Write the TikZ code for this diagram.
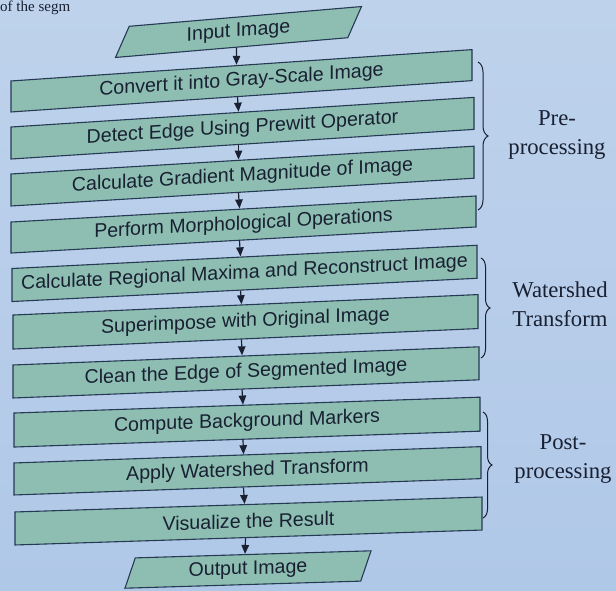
\documentclass[tikz,border=0pt]{standalone}
\usepackage{fontspec}
\setmainfont{Liberation Serif}
\newfontfamily\boxfont{Liberation Sans}
\usetikzlibrary{shapes.geometric,decorations.pathreplacing,arrows.meta}

\definecolor{pagetop}{RGB}{190,210,235}
\definecolor{pagebottom}{RGB}{176,200,232}
\definecolor{boxfill}{RGB}{142,190,178}
\definecolor{boxline}{RGB}{38,58,84}
\definecolor{ink}{RGB}{24,32,50}

\begin{document}
\begin{tikzpicture}[x=1pt,y=-1pt,
  stepbox/.style={draw=boxline, line width=1.1pt, fill=boxfill, rectangle,
    inner sep=0pt, text=ink, font=\boxfont\fontsize{19.6}{22}\selectfont},
  iobox/.style={draw=boxline, line width=1.1pt, fill=boxfill, shape=trapezium,
    trapezium stretches body, minimum height=30pt, minimum width=246pt,
    inner sep=0pt, text=ink, font=\boxfont\fontsize{19.6}{22}\selectfont},
  flow/.style={draw=ink, line width=1.2pt, -{Triangle[length=9pt,width=7.5pt]}},
  grp/.style={draw=ink, line width=1pt, decorate, decoration={brace, amplitude=10pt}},
  phase/.style={align=center, text=ink, inner sep=0pt, font=\fontsize{22.7}{29.5}\selectfont}
]
\useasboundingbox (0,0) rectangle (616,590);
\clip (0,0) rectangle (616,590);
\fill[top color=pagetop, bottom color=pagebottom] (0,0) rectangle (616,590);

% running text of the page above the figure
\node[anchor=base west, inner sep=0pt, text=ink, font=\fontsize{15}{17}\selectfont] (frag) at (0,11) {of the segm};

% input / output
\node[iobox, trapezium left angle=52, trapezium right angle=128, yslant=0.085] (in) at (238.5,32) {Input Image};
\node[iobox, trapezium left angle=60, trapezium right angle=120, yslant=0.03] (out) at (248,569.5) {Output Image};

% processing steps
\node[stepbox, minimum width=461pt, minimum height=31pt, yslant=0.068] (s0) at (241.5,80.8) {Convert it into Gray-Scale Image};
\node[stepbox, minimum width=463pt, minimum height=32pt, yslant=0.064] (s1) at (242.5,128.2) {Detect Edge Using Prewitt Operator};
\node[stepbox, minimum width=463pt, minimum height=32pt, yslant=0.060] (s2) at (242.5,176.1) {Calculate Gradient Magnitude of Image};
\node[stepbox, minimum width=465pt, minimum height=31pt, yslant=0.056] (s3) at (243.5,224.5) {Perform Morphological Operations};
\node[stepbox, minimum width=465pt, minimum height=33pt, yslant=0.050] (s4) at (244.5,273.4) {Calculate Regional Maxima and Reconstruct Image};
\node[stepbox, minimum width=465pt, minimum height=34pt, yslant=0.044] (s5) at (245.5,321.8) {Superimpose with Original Image};
\node[stepbox, minimum width=466pt, minimum height=33pt, yslant=0.039] (s6) at (246,372.4) {Clean the Edge of Segmented Image};
\node[stepbox, minimum width=466pt, minimum height=34pt, yslant=0.034] (s7) at (247,422.1) {Compute Background Markers};
\node[stepbox, minimum width=467pt, minimum height=32pt, yslant=0.035] (s8) at (247.5,470.8) {Apply Watershed Transform};
\node[stepbox, minimum width=467pt, minimum height=33pt, yslant=0.032] (s9) at (248.5,521) {Visualize the Result};

% flow arrows
\draw[flow] ([xshift=-2pt]in.south) -- ([xshift=-5pt]s0.north);
\foreach \a/\b in {s0/s1,s1/s2,s2/s3,s3/s4,s4/s5,s5/s6,s6/s7,s7/s8,s8/s9}
  \draw[flow] ([xshift=-4pt]\a.south) -- ([xshift=-4pt]\b.north);
\draw[flow] ([xshift=-3pt]s9.south) -- ([xshift=-3pt]out.north);

% stage braces
\coordinate (preT) at (478,62);   \coordinate (preB) at (478,210);
\coordinate (watT) at (481,258);  \coordinate (watB) at (481,358);
\coordinate (postT) at (483,412); \coordinate (postB) at (483,518);
\draw[grp] (preT) -- (preB);
\draw[grp, decoration={brace, amplitude=9pt}] (watT) -- (watB);
\draw[grp, decoration={brace, amplitude=9pt}] (postT) -- (postB);

% stage labels
\node[phase] (pre) at (557,135) {Pre-\\processing};
\node[phase] (wat) at (560,304) {Watershed\\Transform};
\node[phase] (post) at (563,459) {Post-\\processing};
\end{tikzpicture}
\end{document}
